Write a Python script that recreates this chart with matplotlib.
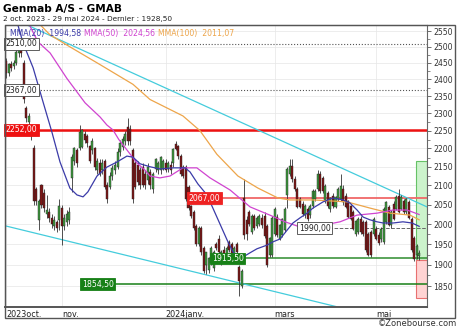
import numpy as np
import matplotlib.pyplot as plt
from matplotlib.patches import Rectangle
from matplotlib.ticker import FixedLocator, NullFormatter, FuncFormatter

title = "Genmab A/S - GMAB"
subtitle = "2 oct. 2023 - 29 mai 2024 - Dernier : 1928,50"

# daily candles, one per trading day (2 oct. 2023 -> 29 mai 2024)
opens = [
    2455, 2420, 2445, 2440, 2450, 2480, 2495, 2450, 2315, 2275, 2255, 2200, 2090, 2010, 2100, 2080,
    2025, 2030, 2015, 1995, 2005, 2010,                                             # oct.
    2040, 1995, 2005, 2010, 2120, 2165, 2195, 2200, 2205, 2240, 2235, 2205, 2195, 2200, 2140, 2160,
    2140, 2165, 2100, 2095, 2125, 2140,                                             # nov.
    2150, 2190, 2205, 2220, 2260, 2255, 2195, 2160, 2155, 2140, 2150, 2130, 2115, 2135, 2090, 2145,
    2140, 2140, 2145,                                                               # dec.
    2160, 2145, 2155, 2160, 2213, 2205, 2180, 2150, 2150, 2095, 2045, 2030, 1995, 1950, 1990, 1940,
    1900, 1888, 1905, 1892, 1950, 1962,                                             # janv.
    1905, 1935, 1922, 1955, 1950, 1922, 1950, 1895, 1850, 2067, 2010, 2030, 1980, 2020, 1995, 2000,
    2015, 2020, 1995, 1925, 1925,                                                   # fevr.
    1975, 2018, 1964, 1972, 1985, 2075, 2130, 2152, 2117, 2090, 2064, 2050, 2022, 2039, 2022, 2047,
    2064, 2090, 2130,                                                               # mars
    2120, 2060, 2080, 2039, 2073, 2045, 2064, 2064, 2090, 2073, 2058, 2047, 2030, 1976, 1980, 2013,
    2005, 2005, 1976, 1980, 1976,                                                   # avr.
    1988, 1972, 1962, 1956, 2005, 2043, 1997, 2052, 2039, 2073, 2039, 2058, 2030, 2056, 2013, 1964,
    1923, 1922,                                                                     # mai
]
highs = [
    2465, 2450, 2455, 2460, 2490, 2515, 2505, 2460, 2320, 2300, 2260, 2210, 2095, 2065, 2105, 2090,
    2075, 2040, 2025, 2020, 2010, 2065,
    2050, 2025, 2035, 2045, 2185, 2205, 2200, 2265, 2255, 2250, 2240, 2210, 2230, 2205, 2175, 2170,
    2170, 2170, 2110, 2135, 2155, 2165,
    2200, 2225, 2235, 2250, 2285, 2265, 2200, 2170, 2165, 2150, 2160, 2140, 2160, 2145, 2135, 2175,
    2165, 2180, 2170,
    2170, 2165, 2165, 2200, 2222, 2210, 2185, 2155, 2155, 2100, 2050, 2035, 2000, 1995, 1995, 1945,
    1932, 1918, 1945, 1935, 1955, 1972,
    1935, 1945, 1945, 1960, 1955, 1945, 1955, 1900, 1890, 2117, 2020, 2035, 2025, 2025, 2020, 2025,
    2025, 2030, 2000, 1968, 2020,
    2045, 2025, 2000, 2015, 2045, 2150, 2170, 2170, 2125, 2095, 2070, 2060, 2052, 2045, 2052, 2090,
    2090, 2140, 2138,
    2125, 2105, 2085, 2070, 2080, 2072, 2095, 2130, 2100, 2080, 2062, 2050, 2035, 2010, 2018, 2020,
    2010, 2010, 1980, 1985, 2018,
    1995, 1980, 1992, 2045, 2060, 2050, 2035, 2060, 2075, 2090, 2075, 2065, 2068, 2062, 2018, 1970,
    1950, 1935,
]
lows = [
    2405, 2410, 2425, 2430, 2445, 2470, 2470, 2330, 2275, 2265, 2225, 2050, 2050, 1985, 2040, 2030,
    2015, 2005, 1990, 1985, 1980, 1985,
    1948, 1985, 1995, 2000, 2083, 2155, 2150, 2195, 2200, 2215, 2205, 2160, 2185, 2140, 2130, 2125,
    2130, 2090, 2055, 2090, 2115, 2130,
    2145, 2180, 2195, 2210, 2210, 2210, 2055, 2090, 2100, 2090, 2095, 2090, 2105, 2090, 2080, 2135,
    2130, 2130, 2140,
    2135, 2135, 2130, 2150, 2195, 2170, 2125, 2120, 2060, 2035, 2015, 1985, 1945, 1945, 1925, 1880,
    1878, 1880, 1900, 1885, 1935, 1925,
    1900, 1915, 1915, 1930, 1918, 1915, 1925, 1827, 1845, 1964, 1960, 1995, 1975, 1985, 1990, 1995,
    1990, 1965, 1895, 1920, 1920,
    1970, 1968, 1960, 1968, 1980, 2040, 2125, 2110, 2085, 2040, 2040, 2020, 2015, 2008, 2015, 2040,
    2060, 2085, 2080,
    2080, 2055, 2040, 2030, 2040, 2040, 2060, 2060, 2050, 2040, 2015, 2010, 1985, 1970, 1975, 1975,
    1970, 1930, 1921, 1920, 1970,
    1960, 1948, 1955, 1950, 2000, 1995, 1990, 2010, 2035, 2028, 2035, 2025, 2025, 2012, 1930, 1909,
    1915, 1912,
]
closes = [
    2420, 2445, 2435, 2450, 2485, 2495, 2480, 2340, 2285, 2290, 2235, 2060, 2060, 2060, 2050, 2040,
    2035, 2015, 2000, 2010, 1990, 2045,
    1995, 2015, 2025, 2030, 2175, 2200, 2160, 2245, 2250, 2225, 2215, 2165, 2220, 2150, 2165, 2130,
    2160, 2095, 2065, 2125, 2145, 2155,
    2190, 2215, 2225, 2240, 2220, 2220, 2065, 2095, 2110, 2100, 2100, 2100, 2150, 2100, 2130, 2170,
    2160, 2175, 2165,
    2140, 2160, 2140, 2198, 2198, 2180, 2130, 2125, 2065, 2040, 2020, 1990, 1950, 1990, 1930, 1885,
    1930, 1915, 1940, 1930, 1940, 1930,
    1930, 1920, 1940, 1935, 1922, 1940, 1930, 1863, 1885, 1972, 1975, 2000, 2020, 1990, 2015, 2020,
    1997, 1970, 1900, 1964, 2015,
    2039, 1972, 1997, 2013, 2039, 2143, 2152, 2117, 2090, 2045, 2045, 2027, 2047, 2013, 2047, 2086,
    2086, 2130, 2086,
    2086, 2099, 2047, 2066, 2047, 2068, 2090, 2099, 2056, 2045, 2018, 2013, 1988, 2007, 2013, 1980,
    1976, 1935, 1925, 1923, 2013,
    1964, 1952, 1988, 2039, 2056, 1997, 2030, 2013, 2069, 2030, 2069, 2030, 2064, 2015, 1935, 1915,
    1945, 1928.5,
]

# moving averages (trading-day index, value)
ma20_idx = [4, 6.7, 10.7, 14.6, 18.1, 21.3, 25.2, 28, 30.4, 32.3, 35.9, 39.8, 43.8, 47.7, 50.1, 52.9,
            56.8, 60.8, 65.9, 70.6, 72.6, 75.7, 79.3, 83.2, 87.2, 89.6, 91.5, 93.5, 96.2, 99, 103,
            105.3, 108.1, 110.9, 113.2, 116, 118.8, 121.1, 125.1, 129, 133, 135.7, 138.5, 140.9,
            143.6, 146.4, 148.8, 152.7, 156.6, 160.2, 163]
ma20_val = [2590, 2513, 2435, 2333, 2246, 2163, 2093, 2075, 2070, 2083, 2125, 2149, 2163, 2179, 2176, 2158,
            2150, 2144, 2147, 2147, 2136, 2104, 2075, 2018, 1961, 1931, 1919, 1919, 1929, 1939, 1948,
            1956, 1963, 1985, 2003, 2016, 2028, 2041, 2057, 2067, 2062, 2054, 2036, 2018,
            2011, 2006, 2003, 2003, 2006, 2003, 1994.58]
ma50_idx = [8, 12.6, 17.4, 24, 31.2, 37.1, 39.8, 42.2, 44.5, 47.7, 51.7, 54.8, 56.8, 60.7, 64.7, 69.8,
            75.3, 80.5, 88.4, 96.3, 104.1, 110.1, 116, 123.9, 131.8, 138.5, 146.4, 152.7, 158.2, 163]
ma50_val = [2590, 2516, 2481, 2403, 2330, 2289, 2266, 2252, 2225, 2196, 2160, 2141, 2125, 2120, 2125, 2147,
            2147, 2120, 2088, 2044, 2023, 2006, 1993, 1996, 2006, 2023, 2028, 2036, 2036, 2024.56]
ma100_idx = [10, 17.4, 24, 37.1, 50.1, 56.8, 69.8, 76.5, 83.2, 91.5, 99.4, 107.3, 112, 121.1, 134.5,
             143.6, 151.5, 159.4, 163]
ma100_val = [2600, 2538, 2506, 2445, 2385, 2340, 2292, 2250, 2184, 2125, 2093, 2067, 2062, 2062, 2057,
             2041, 2028, 2023, 2011.07]

legend_names = ["MMA(20)", "MMA(50)", "MMA(100)"]
legend_values = ["1994,58", "2024,56", "2011,07"]
legend_colors = ["#3b3ba8", "#d044d0", "#eda54a"]

# trend channels (index, price) end points
trend_upper = ([8.3, 166.1], [2570, 2044])
trend_lower = ([-0.4, 130.2], [1996, 1803])

# horizontal levels: value, start index, label, line colour, box face, text colour, style
levels = [
    (2510.00, -0.4, "2510,00", "#555555", "white", "#222222", ":"),
    (2367.00, -0.4, "2367,00", "#555555", "white", "#222222", ":"),
    (2252.00, -0.4, "2252,00", "#ee1111", "#ee1111", "white", "-"),
    (2067.00, 71.8, "2067,00", "#f06868", "#ee2222", "white", "-"),
    (1990.00, 115.2, "1990,00", "#666666", "white", "#222222", "--"),
    (1915.50, 80.9, "1915,50", "#2d8c2d", "#178017", "white", "-"),
    (1854.50, 29.6, "1854,50", "#178017", "#178017", "white", "-"),
]
level_widths = [0.8, 0.8, 1.8, 1.3, 0.7, 1.1, 1.1]

month_pos = [0, 22, 63, 106, 146]
month_labels = ["2023oct.", "nov.", "2024janv.", "mars", "mai"]
y_ticks = list(range(1850, 2551, 50))

fig = plt.figure(figsize=(4.6, 3.31), dpi=100)
ax = fig.add_axes([5 / 460, 1 - 307 / 331, 422 / 460, 282 / 331])
ax.set_yscale("log")

idx = np.arange(len(closes))
o = np.array(opens, dtype=float)
c = np.array(closes, dtype=float)
up = c >= o

# target / stop boxes on the right
ax.add_patch(Rectangle((161.7, 1912), 4.4, 2165 - 1912, facecolor="#ccf3cc",
                       edgecolor="#66c266", lw=0.8, zorder=1))
ax.add_patch(Rectangle((161.7, 1823), 4.4, 1912 - 1823, facecolor="#ffd3d3",
                       edgecolor="#e87070", lw=0.8, zorder=1))

for (val, x0, lab, lc, fc, tc, ls), lw in zip(levels, level_widths):
    ax.hlines(val, x0, 166.1, colors=lc, linestyles=ls, lw=lw, zorder=2)
    ax.text(x0 + 0.3, val, lab, fontsize=5.6, color=tc, va="center", ha="left", zorder=6,
            bbox=dict(boxstyle="square,pad=0.18", facecolor=fc,
                      edgecolor="#444444" if fc == "white" else fc, lw=0.6))

ax.plot(*trend_upper, color="#44ccdc", lw=0.9, zorder=2)
ax.plot(*trend_lower, color="#44ccdc", lw=0.9, zorder=2)

# candles
ax.vlines(idx, lows, highs, color="#333333", lw=0.6, zorder=3)
ax.bar(idx, np.abs(c - o) + 0.5, bottom=np.minimum(o, c), width=0.8,
       color=np.where(up, "#3f9a3f", "#7d1616"), edgecolor="#222222", linewidth=0.3, zorder=4)

ax.plot(ma100_idx, ma100_val, color=legend_colors[2], lw=0.9, zorder=5)
ax.plot(ma50_idx, ma50_val, color=legend_colors[1], lw=0.9, zorder=5)
ax.plot(ma20_idx, ma20_val, color=legend_colors[0], lw=0.9, zorder=5)

ax.set_xlim(-0.4, 166.1)
ax.set_ylim(1802, 2570)

ax.yaxis.set_major_locator(FixedLocator(y_ticks))
ax.yaxis.set_minor_locator(FixedLocator([v + 25 for v in y_ticks]))
ax.yaxis.set_major_formatter(FuncFormatter(lambda v, p: f"{v:.0f}"))
ax.yaxis.set_minor_formatter(NullFormatter())
ax.yaxis.tick_right()
ax.tick_params(axis="y", which="major", length=3, width=0.6, color="#555555",
               labelsize=5.6, labelcolor="#333333", pad=1.5)
ax.tick_params(axis="y", which="minor", length=2, width=0.5, color="#555555")

ax.set_xticks(month_pos)
ax.set_xticklabels(month_labels, ha="left", fontsize=5.8, color="#222222")
ax.tick_params(axis="x", length=0, pad=2.5)

ax.grid(True, axis="y", which="major", color="#e6e6e6", lw=0.5, zorder=0)
ax.grid(True, axis="x", color="#e6e6e6", lw=0.5, zorder=0)
ax.set_axisbelow(True)

for s in ["left", "top", "right"]:
    ax.spines[s].set_color("#666666")
    ax.spines[s].set_linewidth(0.8)
ax.spines["bottom"].set_color("#555555")
ax.spines["bottom"].set_linewidth(1.4)

# legend line at the top of the plot
xpos = 0.012
for name, val, col in zip(legend_names, legend_values, legend_colors):
    ax.text(xpos, 0.985, name + "  " + val, transform=ax.transAxes, fontsize=5.6,
            color=col, va="top", ha="left", zorder=7)
    xpos += 0.175

# outer frame including the date strip
fig.add_artist(Rectangle((5 / 460, 1 - 318 / 331), 450 / 460, 293 / 331, transform=fig.transFigure,
                         fill=False, edgecolor="#555555", lw=1.0))

fig.text(3 / 460, 1 - 9 / 331, title, fontsize=7.6, fontweight="bold", va="center", ha="left")
fig.text(3 / 460, 1 - 19.5 / 331, subtitle, fontsize=5.3, va="center", ha="left", color="#222222")
fig.text(457 / 460, 1 - 324 / 331, "\u00a9Zonebourse.com", fontsize=6, va="center", ha="right",
         color="#333333")

fig.savefig("out.png", dpi=100)
